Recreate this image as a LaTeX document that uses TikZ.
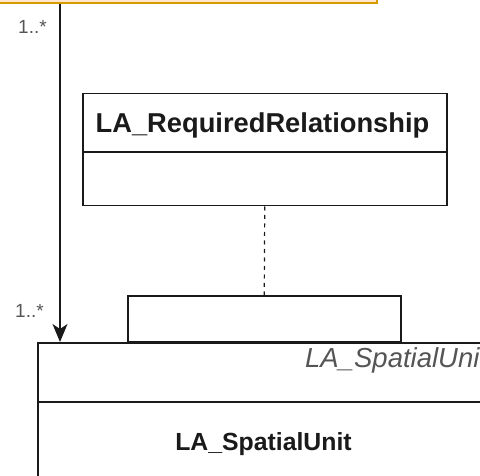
\documentclass[tikz,border=0pt]{standalone}
\usepackage{fontspec}
\setmainfont{Liberation Sans}
\usetikzlibrary{arrows.meta}
\definecolor{orangefill}{HTML}{FFE6CC}
\definecolor{orangeline}{HTML}{D79B00}
\definecolor{labelgray}{HTML}{555555}
\definecolor{inkdark}{HTML}{1A1A1A}
\begin{document}
\begin{tikzpicture}[x=1pt,y=-1pt,
  umlbox/.style={draw=inkdark, line width=1.5pt, rectangle, inner sep=0pt, fill=white},
  srcbox/.style={draw=orangeline, fill=orangefill, line width=1.6pt, rectangle, inner sep=0pt},
  mult/.style={font=\fontsize{19}{21}\selectfont, text=labelgray, inner sep=0pt, anchor=base west},
  classname/.style={font=\bfseries\fontsize{27.3}{30}\selectfont, text=inkdark, inner sep=0pt, anchor=base},
  assoc/.style={line width=1.5pt, draw=inkdark, -{Stealth[length=18pt,width=15pt,inset=5pt]}},
  dashlink/.style={line width=1.2pt, draw=inkdark, dash pattern=on 4pt off 4.5pt}
]
\useasboundingbox (0,0) rectangle (480,476);
\clip (0,0) rectangle (480,476);

% source class, only its lower edge is in view
\node[srcbox, minimum width=430pt, minimum height=90pt, anchor=south east] (src) at (378,4) {};

% association class box
\node[umlbox, minimum width=364pt, minimum height=112pt, anchor=north west] (rel) at (82,93) {};
\draw[draw=inkdark, line width=1.5pt] (rel.west |- 0,152) -- (rel.east |- 0,152);
\node[classname] (reltitle) at (262.5,133) {LA\_RequiredRelationship};

% target class with its tab
\node[umlbox, minimum width=560pt, minimum height=200pt, anchor=north west] (unit) at (37,342) {};
\node[umlbox, minimum width=273pt, minimum height=45pt, anchor=south west] (tab) at (127,342) {};
\draw[draw=inkdark, line width=1.5pt] (unit.west |- 0,402) -- (unit.east |- 0,402);
\node[font=\itshape\fontsize{27.5}{30}\selectfont, text=labelgray, inner sep=0pt, anchor=base west] (unitstereo) at (305,367) {LA\_SpatialUnit};
\node[classname, font=\bfseries\fontsize{24.8}{28}\selectfont] (unittitle) at (263.5,450) {LA\_SpatialUnit};

% association and its multiplicities
\coordinate (lane) at (60,0);
\draw[assoc] (src.south -| lane) -- (unit.north -| lane);
\node[mult] (multtop) at (18,34) {1..*};
\node[mult] (multbottom) at (15,318) {1..*};

% link from the association class
\draw[dashlink] (rel.south) -- (tab.north);
\end{tikzpicture}
\end{document}
